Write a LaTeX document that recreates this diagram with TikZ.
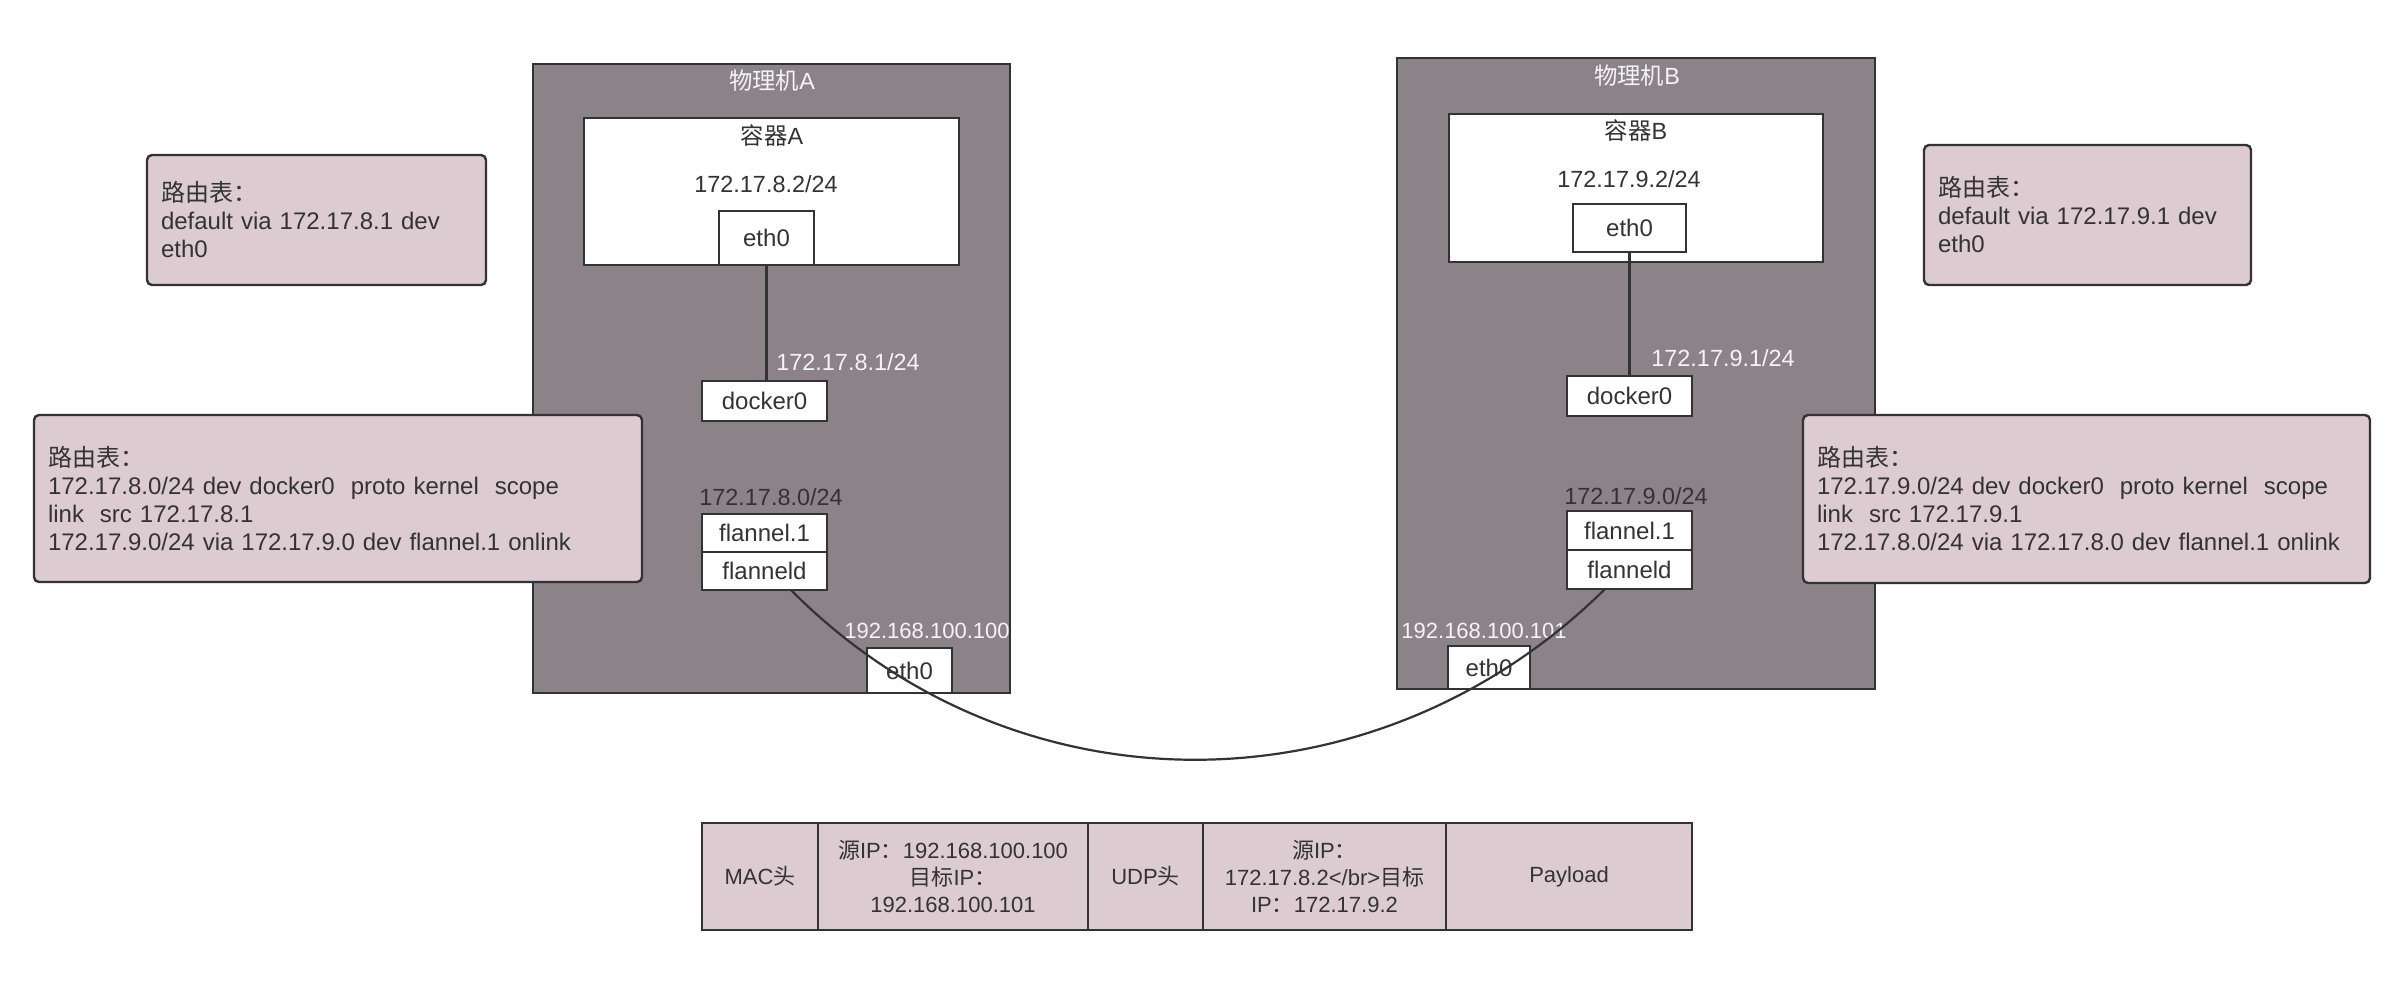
\documentclass[tikz,border=0pt]{standalone}
\usepackage{fontspec}
\setmainfont{Liberation Sans}
\newfontfamily\cjk{Noto Sans CJK SC}
\definecolor{machgray}{HTML}{8C8388}
\definecolor{rpink}{HTML}{DCCBD0}
\definecolor{bord}{HTML}{333333}
\definecolor{lighttxt}{HTML}{F4F4F4}
\definecolor{darktxt}{HTML}{333333}
\begin{document}
\begin{tikzpicture}[x=0.5pt,y=-0.5pt,
 every node/.style={inner sep=0pt, outer sep=0pt},
 machine/.style={draw=bord, fill=machgray, line width=1.2pt},
 wbox/.style={draw=bord, fill=white, line width=1.2pt, font=\fontsize{12}{14}\selectfont, text=darktxt},
 lbl/.style={font=\fontsize{11.7}{14}\selectfont, text=darktxt},
 lightlbl/.style={font=\fontsize{11}{13}\selectfont, text=lighttxt},
 route/.style={draw=bord, fill=rpink, line width=1.2pt, rounded corners=2.5pt, align=left, inner xsep=7pt, font=\fontsize{12}{14}\selectfont, text=darktxt},
 cell/.style={draw=bord, fill=rpink, line width=1.2pt, align=center, font=\fontsize{11}{13.6}\selectfont, text=darktxt, minimum height=53.5pt},
 wire/.style={draw=bord, line width=1.1pt}
]
\fill[white] (0,0) rectangle (2403,986);
\useasboundingbox (0,0) rectangle (2403,986);

% machines
\node[machine, minimum width=238.5pt, minimum height=314.5pt] (mA) at (771.5,378.5) {};
\node[machine, minimum width=239pt, minimum height=315.5pt] (mB) at (1636,373.5) {};
\node[lightlbl, font=\fontsize{11.7}{14}\selectfont] (tA) at (772,81) {{\cjk 物理机}A};
\node[lightlbl, font=\fontsize{11.7}{14}\selectfont] (tB) at (1637,76) {{\cjk 物理机}B};

% containers
\node[wbox, minimum width=187.5pt, minimum height=73.5pt] (cA) at (771.5,191.5) {};
\node[wbox, minimum width=187pt, minimum height=74pt] (cB) at (1636,188) {};
\node[lbl] (cAt) at (772,136) {{\cjk 容器}A};
\node[lbl] (cBt) at (1636,131) {{\cjk 容器}B};
\node[lbl] (cAip) at (766,184) {172.17.8.2/24};
\node[lbl] (cBip) at (1629,179) {172.17.9.2/24};

% container eth0
\node[wbox, minimum width=47.5pt, minimum height=27pt] (ecA) at (766.5,238) {eth0};
\node[wbox, minimum width=56.5pt, minimum height=24pt] (ecB) at (1629.5,228) {eth0};

% docker0
\node[wbox, minimum width=62.5pt, minimum height=20pt] (dA) at (764.5,401) {docker0};
\node[wbox, minimum width=62.5pt, minimum height=20pt] (dB) at (1629.5,396) {docker0};
\node[lightlbl, font=\fontsize{11.7}{14}\selectfont] (dAip) at (848,362) {172.17.8.1/24};
\node[lightlbl, font=\fontsize{11.7}{14}\selectfont] (dBip) at (1723,358) {172.17.9.1/24};

% flannel
\node[lbl] (fAip) at (771,497) {172.17.8.0/24};
\node[lbl] (fBip) at (1636,496) {172.17.9.0/24};
\node[wbox, minimum width=62.5pt, minimum height=19pt] (f1A) at (764.5,533) {flannel.1};
\node[wbox, minimum width=62.5pt, minimum height=19pt] (fdA) at (764.5,571) {flanneld};
\node[wbox, minimum width=62.5pt, minimum height=19.5pt] (f1B) at (1629.5,530.5) {flannel.1};
\node[wbox, minimum width=62.5pt, minimum height=19.5pt] (fdB) at (1629.5,569.5) {flanneld};

% host eth0
\node[lightlbl] (hAip) at (927,631) {192.168.100.100};
\node[lightlbl] (hBip) at (1484,631) {192.168.100.101};
\node[wbox, minimum width=42.5pt, minimum height=22.5pt] (ehA) at (909.5,670.5) {eth0};
\node[wbox, minimum width=41pt, minimum height=21.5pt] (ehB) at (1489,667.5) {eth0};

% connectors
\draw[wire] (ecA.south) -- (ecA.south |- dA.north);
\draw[wire] (ecB.south) -- (ecB.south |- dB.north);
\draw[wire] ([xshift=13.25pt]fdA.south) .. controls (1017,818) and (1376,815) .. ([xshift=-12.25pt]fdB.south);

% route tables
\node[route, text width=155.5pt, minimum height=65pt] (rA1) at (316.5,220)
 {{\cjk 路由表：}\\default via 172.17.8.1 dev\\eth0};
\node[route, text width=290pt, minimum height=83.5pt] (rA2) at (338,498.5)
 {{\cjk 路由表：}\\172.17.8.0/24 dev docker0\ \ proto kernel\ \ scope\\link\ \ src 172.17.8.1\\172.17.9.0/24 via 172.17.9.0 dev flannel.1 onlink};
\node[route, text width=149.5pt, minimum height=70pt] (rB1) at (2087.5,215)
 {{\cjk 路由表：}\\default via 172.17.9.1 dev\\eth0};
\node[route, text width=269.5pt, minimum height=84pt] (rB2) at (2086.5,499)
 {{\cjk 路由表：}\\172.17.9.0/24 dev docker0\ \ proto kernel\ \ scope\\link\ \ src 172.17.9.1\\172.17.8.0/24 via 172.17.8.0 dev flannel.1 onlink};

% packet
\node[cell, minimum width=58pt] (p1) at (760,876.5) {MAC{\cjk 头}};
\node[cell, minimum width=135pt] (p2) at (953,876.5) {{\cjk 源}IP{\cjk ：}192.168.100.100\\{\cjk 目标}IP{\cjk ：}\\192.168.100.101};
\node[cell, minimum width=57.5pt] (p3) at (1145.5,876.5) {UDP{\cjk 头}};
\node[cell, minimum width=121.5pt] (p4) at (1324.5,876.5) {{\cjk 源}IP{\cjk ：}\\172.17.8.2\textless/br\textgreater{\cjk 目标}\\IP{\cjk ：}172.17.9.2};
\node[cell, minimum width=123pt] (p5) at (1569,876.5) {Payload};
\end{tikzpicture}
\end{document}
